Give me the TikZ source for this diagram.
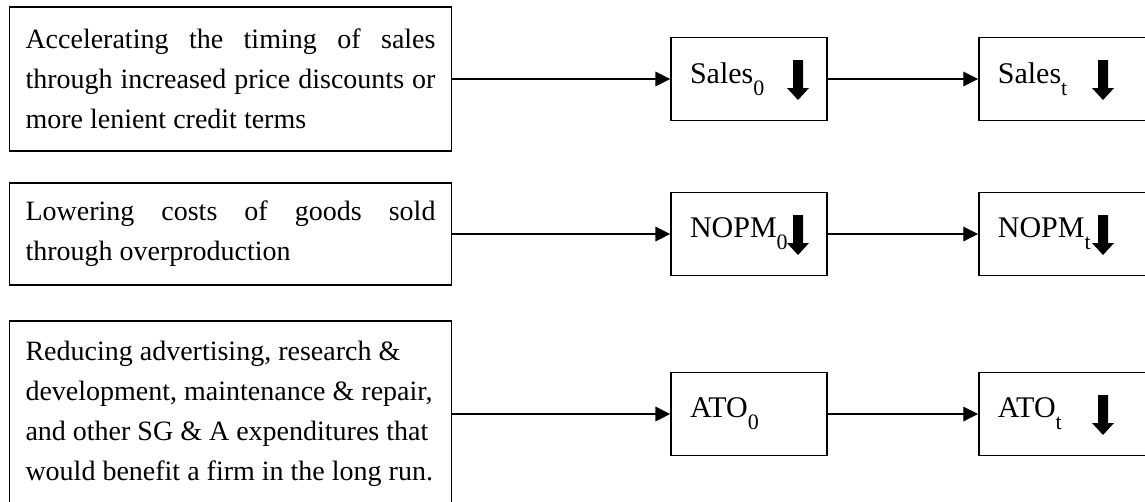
\documentclass[tikz,border=0pt]{standalone}
\usepackage{fontspec}
\setmainfont{Liberation Serif}
\usetikzlibrary{arrows.meta}

\tikzset{
  causebox/.style={draw, line width=1.3pt, inner xsep=12pt, inner ysep=0pt, text width=307.5pt, align=left, font=\fontsize{21}{30}\selectfont},
  ratiobox/.style={draw, line width=1.3pt, minimum height=62.25pt, inner xsep=14.25pt, align=left, font=\fontsize{22.5}{27}\selectfont},
  link/.style={line width=0.8pt, -{Triangle[length=11pt,width=11pt]}},
  dropmark/.pic={\fill (-5,20) -- (5,20) -- (5,-8) -- (11,-8) -- (0,-20) -- (-11,-8) -- (-5,-8) -- cycle;}
}
\newcommand{\jline}[1]{\makebox[307.5pt][s]{\spaceskip=0.25em plus 1fil\relax #1}}
\newcommand{\rline}[1]{\mbox{\spaceskip=0.25em\relax #1}}
\newcommand{\lowsub}[1]{\raisebox{-0.4em}{\fontsize{16.5}{16.5}\selectfont #1}}

\begin{document}
\begin{tikzpicture}[x=0.75pt,y=0.75pt,yscale=-1,xscale=1]
    \useasboundingbox (0,0) rectangle (1145,501);
    \clip (0,0) rectangle (1145,501);

    % Causes
    \node (accel) [causebox, minimum height=108pt] at (230.5,79) {\jline{Accelerating the timing of sales}\\\jline{through increased price discounts or}\\\rline{more lenient credit terms}};
    \node (lower) [causebox, minimum height=76.5pt] at (230.5,234) {\jline{Lowering costs of goods sold}\\\rline{through overproduction}};
    \node (reduce) [causebox, minimum height=139.5pt] at (230.5,414) {\rline{Reducing advertising, research \&}\\\rline{development, maintenance \& repair,}\\\rline{and other SG \& A expenditures that}\\\rline{would benefit a firm in the long run.}};

    % Ratios at time 0
    \node (sales0) [ratiobox, text width=88.5pt] at (749,79) {Sales\lowsub{0}};
    \node (nopm0) [ratiobox, text width=88.5pt] at (749,234) {NOPM\lowsub{0}};
    \node (ato0) [ratiobox, text width=88.5pt] at (749,414) {ATO\lowsub{0}};

    % Ratios at time t
    \node (salest) [ratiobox, text width=114pt, anchor=west] at (978,79) {Sales\lowsub{t}};
    \node (nopmt) [ratiobox, text width=114pt, anchor=west] at (978,234) {NOPM\lowsub{t}};
    \node (atot) [ratiobox, text width=114pt, anchor=west] at (978,414) {ATO\lowsub{t}};

    % Connectors
    \draw [link] (accel.east) -- (sales0.west);
    \draw [link] (lower.east) -- (nopm0.west);
    \draw [link] (reduce.east) -- (ato0.west);
    \draw [link] (sales0.east) -- (salest.west);
    \draw [link] (nopm0.east) -- (nopmt.west);
    \draw [link] (ato0.east) -- (atot.west);

    % Down arrows
    \pic at ([shift={(49,1)}]sales0.center) {dropmark};
    \pic at ([shift={(49,1)}]nopm0.center) {dropmark};
    \pic at ([shift={(125,1)}]salest.west) {dropmark};
    \pic at ([shift={(125,1)}]nopmt.west) {dropmark};
    \pic at ([shift={(125,1)}]atot.west) {dropmark};
\end{tikzpicture}
\end{document}
